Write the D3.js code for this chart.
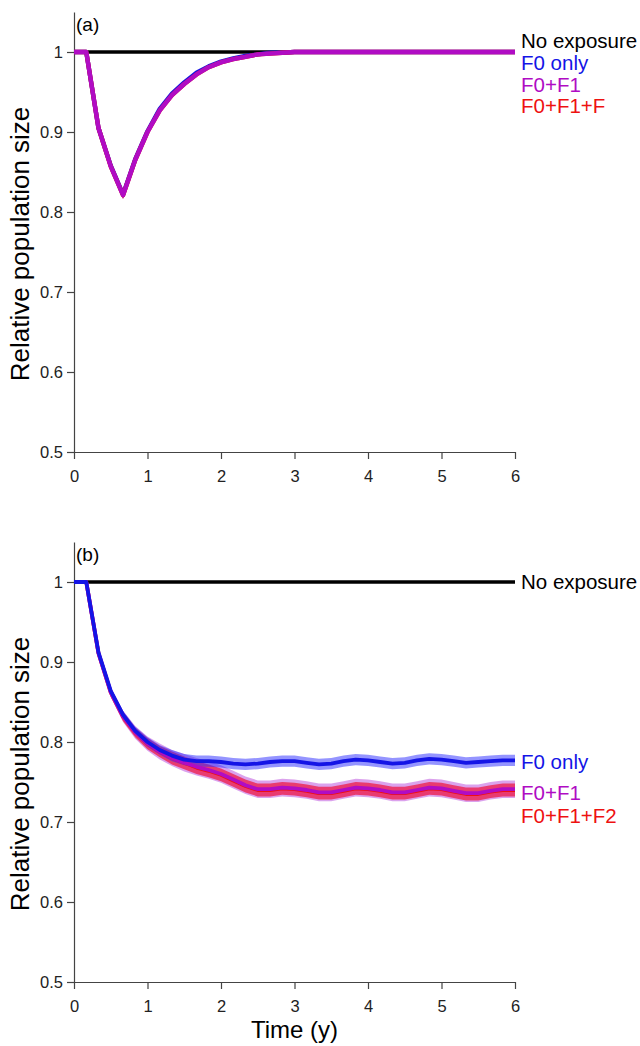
<!DOCTYPE html>
<html>
<head>
<meta charset="utf-8">
<script src="https://cdn.jsdelivr.net/npm/d3@7"></script>
<style>
  body { margin: 0; background: #fff; }
  svg { display: block; font-family: "Liberation Sans", Arial, sans-serif; }
  .axis path, .axis line { stroke: #444; stroke-width: 1.2; }
  .axis text { font-size: 16.5px; fill: #222; font-family: "Liberation Sans", Arial, sans-serif; }
</style>
</head>
<body>
<script>

/* relative population size over time, two panels */

// time steps (years)
var times = [0, 0.167, 0.333, 0.5, 0.667, 0.833, 1, 1.167, 1.333, 1.5, 1.667, 1.833,
	2, 2.167, 2.333, 2.5, 2.667, 2.833, 3, 3.167, 3.333, 3.5, 3.667, 3.833,
	4, 4.167, 4.333, 4.5, 4.667, 4.833, 5, 5.167, 5.333, 5.5, 5.667, 5.833, 6];

// no exposure baseline
var noExposureTimes = [0, 6];
var noExposure = [1, 1];

// panel (a)
var f0OnlyA = [1, 1, 0.905, 0.858, 0.822, 0.866, 0.901, 0.929, 0.948, 0.962, 0.974, 0.982,
	0.988, 0.992, 0.995, 0.997, 0.999, 0.999, 1, 1, 1, 1, 1, 1,
	1, 1, 1, 1, 1, 1, 1, 1, 1, 1, 1, 1, 1];
var f0f1A = [1, 1, 0.905, 0.857, 0.821, 0.865, 0.900, 0.927, 0.946, 0.960, 0.972, 0.981,
	0.987, 0.991, 0.994, 0.997, 0.998, 0.999, 1, 1, 1, 1, 1, 1,
	1, 1, 1, 1, 1, 1, 1, 1, 1, 1, 1, 1, 1];
var f0f1f2A = [1, 1, 0.905, 0.857, 0.821, 0.865, 0.900, 0.927, 0.946, 0.960, 0.972, 0.981,
	0.987, 0.991, 0.994, 0.997, 0.998, 0.999, 1, 1, 1, 1, 1, 1,
	1, 1, 1, 1, 1, 1, 1, 1, 1, 1, 1, 1, 1];
var spreadA = [0, 0, 0.003, 0.004, 0.005, 0.004, 0.004, 0.003, 0.003, 0.003, 0.002, 0.002,
	0.002, 0.002, 0.002, 0.002, 0.001, 0.001, 0.001, 0.001, 0.001, 0.001, 0.001, 0.001,
	0.001, 0.001, 0.001, 0.001, 0.001, 0.001, 0.001, 0.001, 0.001, 0.001, 0.001, 0.001, 0.001];

// panel (b)
var f0OnlyB = [1, 1, 0.912, 0.864, 0.834, 0.814, 0.800, 0.790, 0.783, 0.778, 0.776, 0.776,
	0.775, 0.773, 0.772, 0.773, 0.775, 0.776, 0.776, 0.774, 0.772, 0.773, 0.776, 0.778,
	0.777, 0.775, 0.773, 0.774, 0.777, 0.779, 0.778, 0.776, 0.774, 0.775, 0.776, 0.777, 0.777];
var f0f1B = [1, 1, 0.911, 0.862, 0.832, 0.812, 0.798, 0.788, 0.780, 0.774, 0.769, 0.765,
	0.760, 0.753, 0.746, 0.741, 0.741, 0.743, 0.742, 0.740, 0.737, 0.737, 0.740, 0.743,
	0.742, 0.740, 0.737, 0.737, 0.740, 0.743, 0.742, 0.739, 0.736, 0.736, 0.739, 0.741, 0.741];
var f0f1f2B = [1, 1, 0.911, 0.862, 0.832, 0.812, 0.798, 0.788, 0.780, 0.774, 0.768, 0.764,
	0.759, 0.752, 0.745, 0.740, 0.740, 0.742, 0.741, 0.739, 0.736, 0.736, 0.739, 0.742,
	0.741, 0.739, 0.736, 0.736, 0.739, 0.742, 0.741, 0.738, 0.735, 0.735, 0.738, 0.740, 0.740];
var f0SpreadB = [0, 0, 0.003, 0.004, 0.005, 0.005, 0.006, 0.006, 0.007, 0.007, 0.007, 0.007,
	0.007, 0.007, 0.007, 0.007, 0.007, 0.007, 0.007, 0.007, 0.007, 0.007, 0.007, 0.007,
	0.007, 0.007, 0.007, 0.007, 0.007, 0.007, 0.007, 0.007, 0.007, 0.007, 0.007, 0.007, 0.007];
var f0f1SpreadB = [0, 0, 0.004, 0.006, 0.007, 0.008, 0.009, 0.010, 0.010, 0.011, 0.011, 0.011,
	0.011, 0.011, 0.011, 0.011, 0.011, 0.011, 0.011, 0.011, 0.011, 0.011, 0.011, 0.011,
	0.011, 0.011, 0.011, 0.011, 0.011, 0.011, 0.011, 0.011, 0.011, 0.011, 0.011, 0.011, 0.011];
var f0f1f2SpreadB = [0, 0, 0.003, 0.005, 0.006, 0.006, 0.007, 0.007, 0.008, 0.008, 0.008, 0.008,
	0.008, 0.008, 0.008, 0.008, 0.008, 0.008, 0.008, 0.008, 0.008, 0.008, 0.008, 0.008,
	0.008, 0.008, 0.008, 0.008, 0.008, 0.008, 0.008, 0.008, 0.008, 0.008, 0.008, 0.008, 0.008];

// axes
var xTicks = [0, 1, 2, 3, 4, 5, 6];
var yTicks = [0.5, 0.6, 0.7, 0.8, 0.9, 1];
var yTickLabels = ["0.5", "0.6", "0.7", "0.8", "0.9", "1"];

var blue = "#1414e6", magenta = "#b00cc4", red = "#ee1111";

var width = 640, height = 1046;

var svg = d3.select("body")
	.append("svg")
		.attr("width", width)
		.attr("height", height);

function drawPanel(opts) {

	var xScale = d3.scaleLinear()
		.domain([0, 6])
		.range([74, 515]);

	var yScale = d3.scaleLinear()
		.domain([0.5, 1.05])
		.range([opts.bottom, opts.bottom - 440]);

	var g = svg.append("g");

	// axes
	g.append("g")
		.attr("class", "axis")
		.attr("transform", "translate(0," + yScale(0.5) + ")")
		.call(d3.axisBottom(xScale).tickValues(xTicks).tickSize(7).tickSizeOuter(0).tickPadding(11)
			.tickFormat(d3.format("d")))
		.selectAll("text").attr("dy", "0.71em");

	g.append("g")
		.attr("class", "axis")
		.attr("transform", "translate(" + xScale(0) + ",0)")
		.call(d3.axisLeft(yScale).tickValues(yTicks).tickSize(7).tickSizeOuter(0).tickPadding(4)
			.tickFormat((d, i) => yTickLabels[i]));

	g.selectAll(".axis .domain").attr("fill", "none");

	var line = d3.line()
		.x(d => xScale(d[0]))
		.y(d => yScale(d[1]));

	var band = d3.area()
		.x(d => xScale(d[0]))
		.y0(d => yScale(d[1] - d[2]))
		.y1(d => yScale(d[1] + d[2]));

	// confidence bands
	opts.series.forEach(function(s) {
		g.append("path")
			.datum(times.map((t, i) => [t, s.values[i], s.spread[i]]))
			.attr("d", band)
			.attr("fill", s.bandColor)
			.attr("fill-opacity", s.bandOpacity);
	});

	// no exposure line
	g.append("path")
		.datum(noExposureTimes.map((t, i) => [t, noExposure[i]]))
		.attr("d", line)
		.attr("fill", "none")
		.attr("stroke", "#000")
		.attr("stroke-width", 3.4);

	// mean lines
	opts.lineOrder.forEach(function(s) {
		g.append("path")
			.datum(times.map((t, i) => [t, s.values[i]]))
			.attr("d", line)
			.attr("fill", "none")
			.attr("stroke", s.color)
			.attr("stroke-width", opts.lineWidth)
			.attr("stroke-linejoin", "round");
	});

	// panel letter
	g.append("text")
		.attr("x", 76)
		.attr("y", yScale(1) - 21)
		.style("font-size", "19px")
		.text(opts.letter);

	// y axis title
	g.append("text")
		.attr("transform", "rotate(-90)")
		.attr("x", -opts.titleY)
		.attr("y", 29)
		.style("text-anchor", "middle")
		.style("font-size", "26px")
		.text("Relative population size");

	// labels at the right
	opts.labels.forEach(function(l) {
		g.append("text")
			.attr("x", xScale(6) + 6)
			.attr("y", l.y)
			.attr("fill", l.color)
			.style("font-size", "20.5px")
			.text(l.text);
	});

	return { x: xScale, y: yScale };
}

var seriesA = [
	{ values: f0OnlyA, spread: spreadA, color: blue, bandColor: blue, bandOpacity: 0.45 },
	{ values: f0f1A, spread: spreadA, color: magenta, bandColor: magenta, bandOpacity: 0.45 },
	{ values: f0f1f2A, spread: spreadA, color: red, bandColor: red, bandOpacity: 0.5 }
];

drawPanel({
	bottom: 452,
	letter: "(a)",
	titleY: 244,
	lineWidth: 4.4,
	series: seriesA,
	lineOrder: [seriesA[0], seriesA[2], seriesA[1]],
	labels: [
		{ text: "No exposure", color: "#000", y: 48 },
		{ text: "F0 only", color: blue, y: 70 },
		{ text: "F0+F1", color: magenta, y: 92 },
		{ text: "F0+F1+F", color: red, y: 113 }
	]
});

var seriesB = [
	{ values: f0f1B, spread: f0f1SpreadB, color: magenta, bandColor: "#b030d8", bandOpacity: 0.45 },
	{ values: f0f1f2B, spread: f0f1f2SpreadB, color: red, bandColor: "#f0103a", bandOpacity: 0.7 },
	{ values: f0OnlyB, spread: f0SpreadB, color: blue, bandColor: "#2a2aff", bandOpacity: 0.5 }
];

var pb = drawPanel({
	bottom: 982,
	letter: "(b)",
	titleY: 774,
	lineWidth: 3.8,
	series: seriesB,
	lineOrder: [seriesB[1], seriesB[0], seriesB[2]],
	labels: [
		{ text: "No exposure", color: "#000", y: 589 },
		{ text: "F0 only", color: blue, y: 769 },
		{ text: "F0+F1", color: magenta, y: 800 },
		{ text: "F0+F1+F2", color: red, y: 823 }
	]
});

// x axis title
svg.append("text")
	.attr("x", pb.x(3))
	.attr("y", 1038)
	.style("text-anchor", "middle")
	.style("font-size", "24px")
	.text("Time (y)");

</script>
</body>
</html>
